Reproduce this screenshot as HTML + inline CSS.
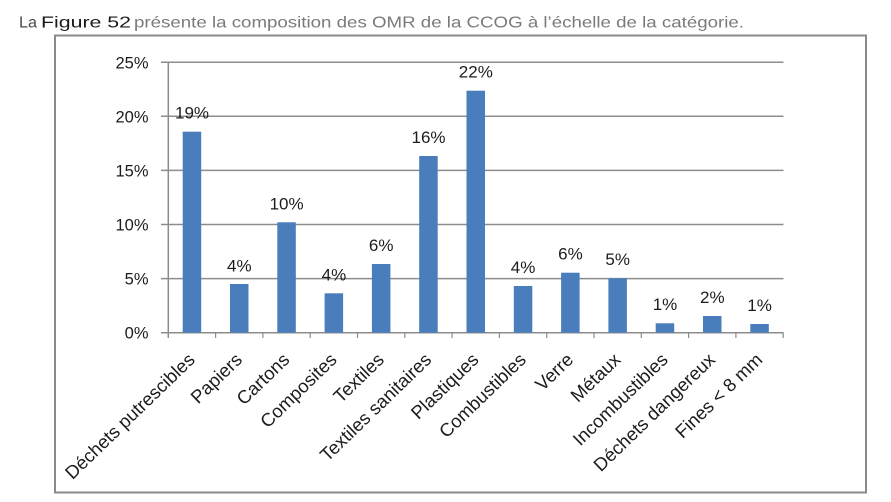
<!DOCTYPE html>
<html>
<head>
<meta charset="utf-8">
<style>
  html,body{margin:0;padding:0;background:#fff;}
  svg{display:block;}
  .ax{font-family:"Liberation Sans",Arial,sans-serif;fill:#1c1c1c;}
</style>
</head>
<body>
<svg width="891" height="502" viewBox="0 0 891 502" xmlns="http://www.w3.org/2000/svg">
  <rect x="0" y="0" width="891" height="502" fill="#ffffff"/>
  <!-- Title -->
  <g font-family="'Liberation Sans', Arial, sans-serif" font-size="16">
    <text x="19" y="27.5" fill="#4a4a4a" textLength="18" lengthAdjust="spacingAndGlyphs">La</text>
    <text x="41" y="27.5" fill="#1a1a1a" textLength="90" lengthAdjust="spacingAndGlyphs">Figure 52</text>
    <text x="134" y="27.5" fill="#7a7a7a" textLength="610" lengthAdjust="spacingAndGlyphs">présente la composition des OMR de la CCOG à l’échelle de la catégorie.</text>
  </g>

  <!-- Frame -->
  <rect x="55" y="35.5" width="811" height="457" fill="#ffffff" stroke="#8a8a8a" stroke-width="2"/>

  <!-- Gridlines -->
  <g stroke="#8c8c8c" stroke-width="1.5">
    <line x1="161" y1="62.2" x2="783.5" y2="62.2"/>
    <line x1="161" y1="116.3" x2="783.5" y2="116.3"/>
    <line x1="161" y1="170.4" x2="783.5" y2="170.4"/>
    <line x1="161" y1="224.5" x2="783.5" y2="224.5"/>
    <line x1="161" y1="278.6" x2="783.5" y2="278.6"/>
    <line x1="161" y1="332.7" x2="783.5" y2="332.7"/>
    <line x1="168.3" y1="62.2" x2="168.3" y2="338"/>
  </g>
  <!-- X ticks -->
  <g stroke="#8c8c8c" stroke-width="1.2">
    <line x1="215.6" y1="332.7" x2="215.6" y2="338"/>
    <line x1="262.9" y1="332.7" x2="262.9" y2="338"/>
    <line x1="310.2" y1="332.7" x2="310.2" y2="338"/>
    <line x1="357.5" y1="332.7" x2="357.5" y2="338"/>
    <line x1="404.8" y1="332.7" x2="404.8" y2="338"/>
    <line x1="452.1" y1="332.7" x2="452.1" y2="338"/>
    <line x1="499.4" y1="332.7" x2="499.4" y2="338"/>
    <line x1="546.7" y1="332.7" x2="546.7" y2="338"/>
    <line x1="594.0" y1="332.7" x2="594.0" y2="338"/>
    <line x1="641.3" y1="332.7" x2="641.3" y2="338"/>
    <line x1="688.6" y1="332.7" x2="688.6" y2="338"/>
    <line x1="735.9" y1="332.7" x2="735.9" y2="338"/>
    <line x1="783.2" y1="332.7" x2="783.2" y2="338"/>
  </g>

  <!-- Bars -->
  <g fill="#4a7dbb">
    <rect x="182.7" y="131.7" width="18.5" height="201"/>
    <rect x="230.0" y="284.0" width="18.5" height="48.7"/>
    <rect x="277.3" y="222.3" width="18.5" height="110.4"/>
    <rect x="324.6" y="293.3" width="18.5" height="39.4"/>
    <rect x="371.9" y="264.0" width="18.5" height="68.7"/>
    <rect x="419.2" y="156.0" width="18.5" height="176.7"/>
    <rect x="466.5" y="90.7" width="18.5" height="242"/>
    <rect x="513.8" y="286.0" width="18.5" height="46.7"/>
    <rect x="561.1" y="272.7" width="18.5" height="60"/>
    <rect x="608.4" y="278.3" width="18.5" height="54.4"/>
    <rect x="655.7" y="323.3" width="18.5" height="9.4"/>
    <rect x="703.0" y="316.0" width="18.5" height="16.7"/>
    <rect x="750.3" y="324.0" width="18.5" height="8.7"/>
  </g>

  <!-- Y labels -->
  <g class="ax" font-size="16.5" text-anchor="end">
    <text x="148.5" y="68.5">25%</text>
    <text x="148.5" y="122.5">20%</text>
    <text x="148.5" y="176.5">15%</text>
    <text x="148.5" y="230.5">10%</text>
    <text x="148.5" y="284.5">5%</text>
    <text x="148.5" y="338.5">0%</text>
  </g>

  <!-- Value labels -->
  <g class="ax" font-size="17" text-anchor="middle">
    <text x="192.0" y="118.5">19%</text>
    <text x="239.3" y="271.5">4%</text>
    <text x="286.6" y="209.5">10%</text>
    <text x="333.9" y="280.5">4%</text>
    <text x="381.2" y="251">6%</text>
    <text x="428.5" y="143">16%</text>
    <text x="475.8" y="77.5">22%</text>
    <text x="523.1" y="273">4%</text>
    <text x="570.4" y="259.5">6%</text>
    <text x="617.7" y="265">5%</text>
    <text x="665.0" y="310">1%</text>
    <text x="712.3" y="303">2%</text>
    <text x="759.6" y="311">1%</text>
  </g>

  <!-- Category labels -->
  <g class="ax" font-size="18.5" text-anchor="end">
    <text transform="translate(196,361) rotate(-44)">Déchets putrescibles</text>
    <text transform="translate(243.3,361) rotate(-44)">Papiers</text>
    <text transform="translate(290.6,361) rotate(-44)">Cartons</text>
    <text transform="translate(337.9,361) rotate(-44)">Composites</text>
    <text transform="translate(385.2,361) rotate(-44)">Textiles</text>
    <text transform="translate(432.5,361) rotate(-44)">Textiles sanitaires</text>
    <text transform="translate(479.8,361) rotate(-44)">Plastiques</text>
    <text transform="translate(527.1,361) rotate(-44)">Combustibles</text>
    <text transform="translate(574.4,361) rotate(-44)">Verre</text>
    <text transform="translate(621.7,361) rotate(-44)">Métaux</text>
    <text transform="translate(669.0,361) rotate(-44)">Incombustibles</text>
    <text transform="translate(716.3,361) rotate(-44)">Déchets dangereux</text>
    <text transform="translate(763.6,361) rotate(-44)">Fines &lt; 8 mm</text>
  </g>
</svg>
</body>
</html>
